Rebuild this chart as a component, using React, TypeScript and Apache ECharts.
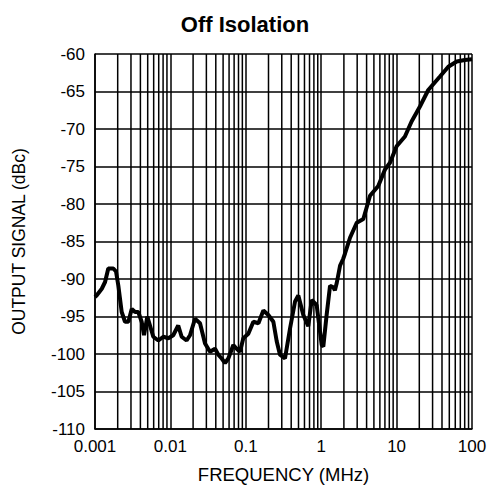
import React, { useEffect, useRef } from "react";
import * as echarts from "echarts";

const title = "Off Isolation";
const xAxisName = "FREQUENCY (MHz)";
const yAxisName = "OUTPUT SIGNAL (dBc)";
const xTickLabels = ["0.001", "0.01", "0.1", "1", "10", "100"];

// frequency in MHz
const freq = [
  0.001, 0.00105, 0.00123, 0.00136, 0.0015, 0.00175, 0.0019, 0.00204, 0.00226, 0.0025,
  0.00277, 0.00307, 0.0034, 0.00375, 0.00416, 0.00447, 0.00494, 0.00536, 0.00593, 0.00692,
  0.00806, 0.00938, 0.0109, 0.0127, 0.0141, 0.0164, 0.0182, 0.0212, 0.0247, 0.0288,
  0.0335, 0.0391, 0.0432, 0.0479, 0.053, 0.0586, 0.0683, 0.0757, 0.0837, 0.0927,
  0.108, 0.126, 0.147, 0.171, 0.199, 0.232, 0.257, 0.284, 0.331, 0.386,
  0.45, 0.497, 0.579, 0.674, 0.748, 0.871, 1.016, 1.067, 1.18, 1.31,
  1.45, 1.52, 1.61, 1.78, 1.96, 2.07, 2.41, 2.96, 3.62, 4.44,
  5.71, 7.01, 8.17, 10.0, 12.9, 15.8, 20.4, 26.3, 37.6, 48.5,
  62.7, 80.0, 100,
];

// output signal in dBc
const signal = [
  -92.4, -92.2, -91.3, -90.4, -88.6, -88.6, -89.0, -90.9, -94.4, -95.7,
  -95.7, -94.0, -94.4, -94.4, -95.7, -97.5, -95.0, -96.2, -97.7, -98.2,
  -97.7, -97.9, -97.5, -96.2, -97.7, -98.2, -97.5, -95.3, -95.9, -98.6,
  -99.7, -99.3, -100.1, -100.6, -101.2, -100.6, -98.8, -99.3, -99.7, -97.9,
  -97.3, -95.7, -95.9, -94.2, -94.8, -95.7, -98.3, -100.1, -100.6, -96.6,
  -93.0, -92.2, -94.8, -96.3, -92.8, -93.5, -98.8, -99.0, -94.8, -90.9,
  -91.1, -91.5, -90.5, -88.2, -87.3, -86.6, -84.5, -82.5, -82.0, -78.9,
  -77.6, -75.4, -74.5, -72.3, -71.0, -69.0, -67.0, -64.8, -63.0, -61.7,
  -61.0, -60.8, -60.7,
];

const decades = [0.001, 0.01, 0.1, 1, 10];
const minorMultipliers = [2, 3, 4, 5, 6, 7, 8, 9];
const yMin = -110;
const yMax = -60;

export default function App() {
  const ref = useRef<HTMLDivElement>(null);
  useEffect(() => {
    if (!ref.current) return;
    const chart = echarts.init(ref.current, null, { renderer: "svg" });
    const minorValues: number[] = [];
    decades.forEach((d) =>
      minorMultipliers.forEach((m) => minorValues.push(+(d * m).toPrecision(3)))
    );
    const gridSeries = minorValues.map((v) => ({
      type: "line",
      data: [
        [v, yMin],
        [v, yMax],
      ],
      symbol: "none",
      silent: true,
      lineStyle: { color: "#000", width: 1.5 },
      z: 1,
    }));
    const font = "'Liberation Sans', Arial, Helvetica, sans-serif";
    chart.setOption({
      animation: false,
      title: {
        text: title,
        left: "center",
        top: 8,
        textStyle: { fontFamily: font, fontSize: 22, fontWeight: "bold", color: "#000" },
      },
      grid: { left: 95, right: 18, top: 54, bottom: 58, containLabel: false },
      xAxis: {
        type: "log",
        logBase: 10,
        min: 0.001,
        max: 100,
        name: xAxisName,
        nameLocation: "middle",
        nameGap: 36,
        nameTextStyle: { fontFamily: font, fontSize: 18.5, color: "#000" },
        axisLine: { show: true, lineStyle: { color: "#000", width: 1.5 } },
        axisTick: { show: false },
        axisLabel: {
          fontFamily: font,
          fontSize: 17,
          color: "#000",
          margin: 9,
          formatter: (v: number) => {
            const i = Math.round(Math.log10(v)) + 3;
            return xTickLabels[i] ?? String(v);
          },
        },
        splitLine: { show: true, lineStyle: { color: "#000", width: 1.5 } },
      },
      yAxis: {
        type: "value",
        min: yMin,
        max: yMax,
        interval: 5,
        name: yAxisName,
        nameLocation: "middle",
        nameGap: 67,
        nameTextStyle: { fontFamily: font, fontSize: 17.5, color: "#000" },
        axisLine: { show: true, lineStyle: { color: "#000", width: 1.5 } },
        axisTick: { show: false },
        axisLabel: { fontFamily: font, fontSize: 17, color: "#000", margin: 10 },
        splitLine: { show: true, lineStyle: { color: "#000", width: 1.5 } },
      },
      series: [
        ...gridSeries,
        {
          type: "line",
          data: freq.map((f, i) => [f, signal[i]]),
          showSymbol: false,
          symbol: "none",
          lineStyle: { color: "#000", width: 4 },
          z: 5,
        },
      ],
    });
    return () => chart.dispose();
  }, []);
  return (
    <div
      ref={ref}
      style={{ position: "fixed", left: 0, top: 0, width: 490, height: 489, background: "#fff" }}
    />
  );
}
